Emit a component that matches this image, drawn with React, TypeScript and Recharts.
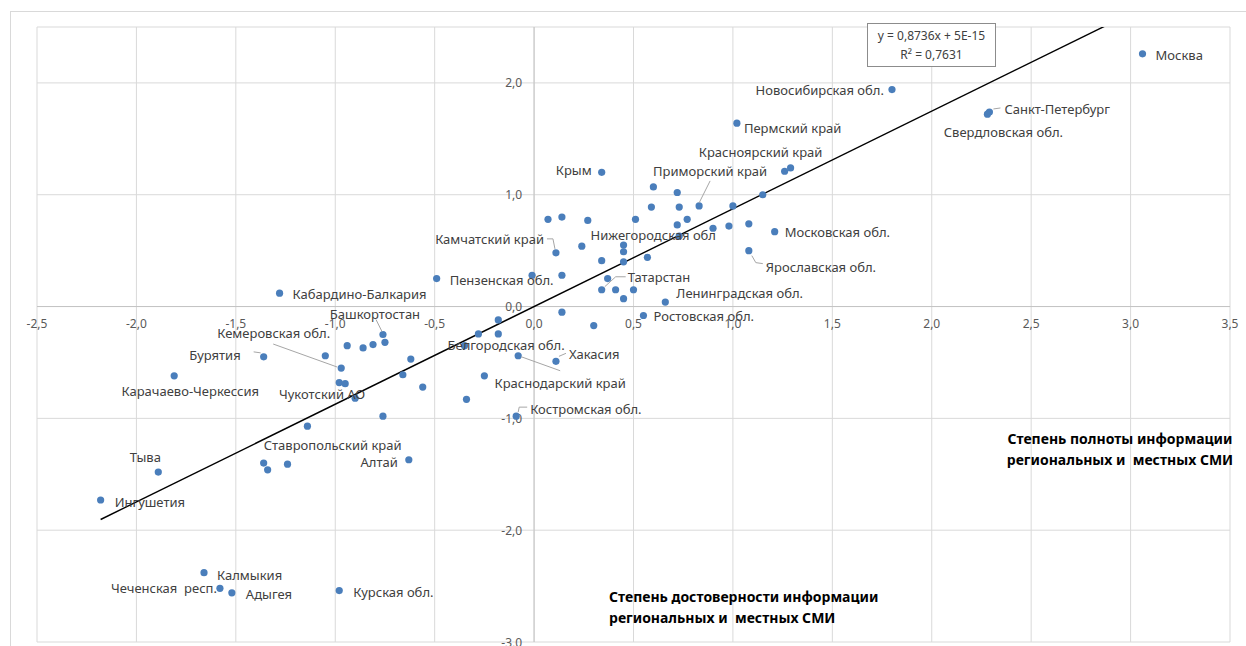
import React from 'react';
import { ScatterChart, Scatter, XAxis, YAxis, CartesianGrid, ReferenceLine } from 'recharts';

// region names ('' = no data label), x = completeness, y = reliability
const NAMES = [
  'Москва', 'Санкт-Петербург', 'Свердловская обл.', 'Новосибирская обл.', 'Пермский край',
  'Красноярский край', '', 'Крым', '', '',
  'Приморский край', '', '', '', '',
  '', '', '', '', '',
  '', '', '', '', '',
  'Московская обл.', 'Ярославская обл.', 'Камчатский край', '', 'Нижегородская обл',
  '', '', '', '', 'Пензенская обл.',
  '', '', '', 'Татарстан', '',
  '', '', 'Ленинградская обл.', '', 'Ростовская обл.',
  '', '', '', '', 'Белгородская обл.',
  'Краснодарский край', 'Хакасия', '', '', 'Костромская обл.',
  'Кабардино-Балкария', 'Башкортостан', '', '', '',
  '', '', 'Бурятия', 'Кемеровская обл.', '',
  '', 'Чукотский АО', '', '', '',
  '', '', 'Карачаево-Черкессия', 'Тыва', 'Ингушетия',
  'Ставропольский край', '', '', 'Алтай', 'Калмыкия',
  'Чеченская  респ.', 'Адыгея', 'Курская обл.',
];

const COMPLETENESS = [
  3.06, 2.29, 2.28, 1.80, 1.02,
  1.29, 1.26, 0.34, 0.60, 0.72,
  0.83, 0.59, 0.73, 1.00, 1.15,
  0.07, 0.14, 0.27, 0.51, 0.72,
  0.77, 0.73, 0.90, 0.98, 1.08,
  1.21, 1.08, 0.11, 0.24, 0.45,
  0.45, 0.45, 0.34, 0.57, -0.49,
  -0.01, 0.14, 0.37, 0.34, 0.41,
  0.50, 0.45, 0.66, 0.14, 0.55,
  0.30, -0.18, -0.28, -0.18, -0.35,
  -0.08, 0.11, -0.25, -0.34, -0.09,
  -1.28, -0.76, -0.75, -0.94, -0.86,
  -0.81, -1.05, -1.36, -0.97, -0.98,
  -0.95, -0.90, -0.62, -0.66, -0.56,
  -0.76, -1.14, -1.81, -1.89, -2.18,
  -1.36, -1.34, -1.24, -0.63, -1.66,
  -1.58, -1.52, -0.98,
];

const RELIABILITY = [
  2.26, 1.74, 1.72, 1.94, 1.64,
  1.24, 1.21, 1.20, 1.07, 1.02,
  0.90, 0.89, 0.89, 0.90, 1.00,
  0.78, 0.80, 0.77, 0.78, 0.73,
  0.78, 0.63, 0.70, 0.72, 0.74,
  0.67, 0.50, 0.48, 0.54, 0.55,
  0.49, 0.40, 0.41, 0.44, 0.25,
  0.28, 0.28, 0.25, 0.15, 0.15,
  0.15, 0.07, 0.04, -0.05, -0.08,
  -0.17, -0.12, -0.245, -0.245, -0.35,
  -0.44, -0.49, -0.62, -0.83, -0.98,
  0.12, -0.25, -0.32, -0.35, -0.37,
  -0.34, -0.44, -0.45, -0.55, -0.68,
  -0.69, -0.82, -0.47, -0.61, -0.72,
  -0.98, -1.07, -0.62, -1.48, -1.73,
  -1.40, -1.46, -1.41, -1.37, -2.38,
  -2.52, -2.56, -2.54,
];

const X_TICKS = [-2.5, -2, -1.5, -1, -0.5, 0, 0.5, 1, 1.5, 2, 2.5, 3, 3.5];
const Y_TICKS = [-3, -2, -1, 0, 1, 2];
const X_DOMAIN: [number, number] = [-2.5, 3.5];
const Y_DOMAIN: [number, number] = [-3, 2.5];

const TREND_SLOPE = 0.8736;
const TREND_INTERCEPT = 5e-15;
const TREND_EQUATION = 'y = 0,8736x + 5E-15';
const TREND_R2 = 'R² = 0,7631';

const X_TITLE = ['Степень полноты информации', 'региональных и  местных СМИ'];
const Y_TITLE = ['Степень достоверности информации', 'региональных и  местных СМИ'];

// label placement relative to the dot (px), with optional leader line
type LabelPos = { dx: number; dy: number; anchor?: 'start' | 'middle' | 'end'; leader?: [number, number][] };
const LABEL_POS: Record<string, LabelPos> = {
  'Москва': { dx: 13, dy: 1 },
  'Санкт-Петербург': { dx: 15, dy: -3, leader: [[4, -3], [11, -4]] },
  'Свердловская обл.': { dx: 16, dy: 18, anchor: 'middle' },
  'Новосибирская обл.': { dx: -8, dy: 0, anchor: 'end' },
  'Пермский край': { dx: 7, dy: 5 },
  'Красноярский край': { dx: -30, dy: -16, anchor: 'middle' },
  'Крым': { dx: -10, dy: -2, anchor: 'end' },
  'Приморский край': { dx: 11, dy: -35, anchor: 'middle', leader: [[0, -3], [11, -25]] },
  'Московская обл.': { dx: 10, dy: 0 },
  'Ярославская обл.': { dx: 17, dy: 16, leader: [[3, 5], [7, 12], [14, 13]] },
  'Нижегородская обл': { dx: -33, dy: -10 },
  'Камчатский край': { dx: -12, dy: -14, anchor: 'end', leader: [[-9, -14], [-3, -14], [-1, -4]] },
  'Пензенская обл.': { dx: 13, dy: 1 },
  'Татарстан': { dx: 26, dy: -13, leader: [[3, -3], [14, -13], [24, -13]] },
  'Ленинградская обл.': { dx: 11, dy: -9 },
  'Ростовская обл.': { dx: 10, dy: 1 },
  'Белгородская обл.': { dx: -17, dy: -1 },
  'Краснодарский край': { dx: 42, dy: 27, anchor: 'middle', leader: [[3, 1], [42, 15]] },
  'Хакасия': { dx: 13, dy: -7, leader: [[3, -5], [10, -8]] },
  'Костромская обл.': { dx: 14, dy: -7, leader: [[2, -4], [3, -9], [11, -9]] },
  'Кабардино-Балкария': { dx: 13, dy: 1 },
  'Башкортостан': { dx: -8, dy: -21, anchor: 'middle', leader: [[-7, -15], [-1, -3]] },
  'Кемеровская обл.': { dx: -11, dy: -35, anchor: 'end', leader: [[-68, -24], [-4, -1]] },
  'Бурятия': { dx: -23, dy: -2, anchor: 'end', leader: [[-10, -5], [-3, -4]] },
  'Карачаево-Черкессия': { dx: 16, dy: 15, anchor: 'middle' },
  'Чукотский АО': { dx: -33, dy: -4, anchor: 'middle' },
  'Тыва': { dx: -13, dy: -15, anchor: 'middle' },
  'Ингушетия': { dx: 14, dy: 2 },
  'Ставропольский край': { dx: 69, dy: -18, anchor: 'middle' },
  'Алтай': { dx: -11, dy: 2, anchor: 'end' },
  'Калмыкия': { dx: 13, dy: 2 },
  'Чеченская  респ.': { dx: -3, dy: 0, anchor: 'end' },
  'Адыгея': { dx: 14, dy: 1 },
  'Курская обл.': { dx: 14, dy: 1 },
};

const BLUE = '#4a7ebb';
const FONT = '"Noto Sans", "Open Sans", sans-serif';

const points = NAMES.map((name, i) => ({ name, x: COMPLETENESS[i], y: RELIABILITY[i] }));
const xMin = Math.min(...COMPLETENESS);
const xMax = Math.max(...COMPLETENESS);
const trendSegment = [xMin, xMax].map(x => ({ x, y: TREND_SLOPE * x + TREND_INTERCEPT }));
const xTickData = X_TICKS.map(x => ({ x, y: 0 }));
const yTickData = Y_TICKS.map(y => ({ x: 0, y }));

const fmt = (v: number) => v.toFixed(1).replace('.', ',');

const Dot = (p: any) => <circle cx={p.cx} cy={p.cy} r={3.6} fill={BLUE} />;

const RegionLabel = (p: any) => {
  const name = p.payload?.name;
  const pos = name ? LABEL_POS[name] : undefined;
  if (!pos) return <g />;
  const leader = pos.leader?.map(([dx, dy]) => `${p.cx + dx},${p.cy + dy}`).join(' ');
  return (
    <g>
      {leader && <polyline points={leader} fill="none" stroke="#a6a6a6" strokeWidth={1} />}
      <text
        x={p.cx + pos.dx}
        y={p.cy + pos.dy}
        textAnchor={pos.anchor ?? 'start'}
        dominantBaseline="central"
        fontSize={13}
        fontFamily={FONT}
        fill="#404040"
        style={{ whiteSpace: 'pre' }}
      >
        {name}
      </text>
    </g>
  );
};

const XTickLabel = (p: any) => (
  <text x={p.cx} y={p.cy + 17} textAnchor="middle" dominantBaseline="central" fontSize={12} fontFamily={FONT} fill="#595959">
    {fmt(p.payload.x)}
  </text>
);

const YTickLabel = (p: any) => (
  <text x={p.cx - 12} y={p.cy} textAnchor="end" dominantBaseline="central" fontSize={12} fontFamily={FONT} fill="#595959">
    {fmt(p.payload.y)}
  </text>
);

const titleStyle: React.CSSProperties = {
  position: 'absolute',
  fontFamily: FONT,
  fontWeight: 700,
  fontSize: 14,
  lineHeight: '21px',
  color: '#000',
  whiteSpace: 'pre',
};

export default function App() {
  return (
    <div style={{ position: 'absolute', left: 0, top: 0, width: 1246, height: 646, background: '#fff', overflow: 'hidden' }}>
      <div style={{ position: 'absolute', left: 10, top: 11, width: 1246, height: 646, borderLeft: '1px solid #d9d9d9', borderTop: '1px solid #d9d9d9' }} />
      <ScatterChart width={1246} height={646} margin={{ top: 27, right: 16, bottom: 4, left: 37 }}>
        <CartesianGrid stroke="#d9d9d9" />
        <XAxis type="number" dataKey="x" domain={X_DOMAIN} ticks={X_TICKS} hide />
        <YAxis type="number" dataKey="y" domain={Y_DOMAIN} ticks={Y_TICKS} hide />
        <ReferenceLine x={0} stroke="#c4c4c4" />
        <ReferenceLine y={0} stroke="#c4c4c4" />
        <Scatter data={xTickData} shape={XTickLabel} isAnimationActive={false} />
        <Scatter data={yTickData} shape={YTickLabel} isAnimationActive={false} />
        <Scatter data={points} shape={Dot} isAnimationActive={false} />
        <ReferenceLine segment={trendSegment} ifOverflow="hidden" stroke="#000" strokeWidth={1.4} />
        <Scatter data={points} shape={RegionLabel} isAnimationActive={false} />
      </ScatterChart>
      <div
        style={{
          position: 'absolute', left: 867, top: 23, width: 127, height: 40, border: '1px solid #8c8c8c',
          background: '#fff', fontFamily: FONT, fontSize: 12, lineHeight: '19px', color: '#404040', textAlign: 'center',
          paddingTop: 2, boxSizing: 'content-box',
        }}
      >
        <div>{TREND_EQUATION}</div>
        <div>{TREND_R2}</div>
      </div>
      <div style={{ ...titleStyle, left: 990, top: 428, width: 260, textAlign: 'center' }}>
        {X_TITLE.map(t => <div key={t}>{t}</div>)}
      </div>
      <div style={{ ...titleStyle, left: 609, top: 586 }}>
        {Y_TITLE.map(t => <div key={t}>{t}</div>)}
      </div>
    </div>
  );
}
